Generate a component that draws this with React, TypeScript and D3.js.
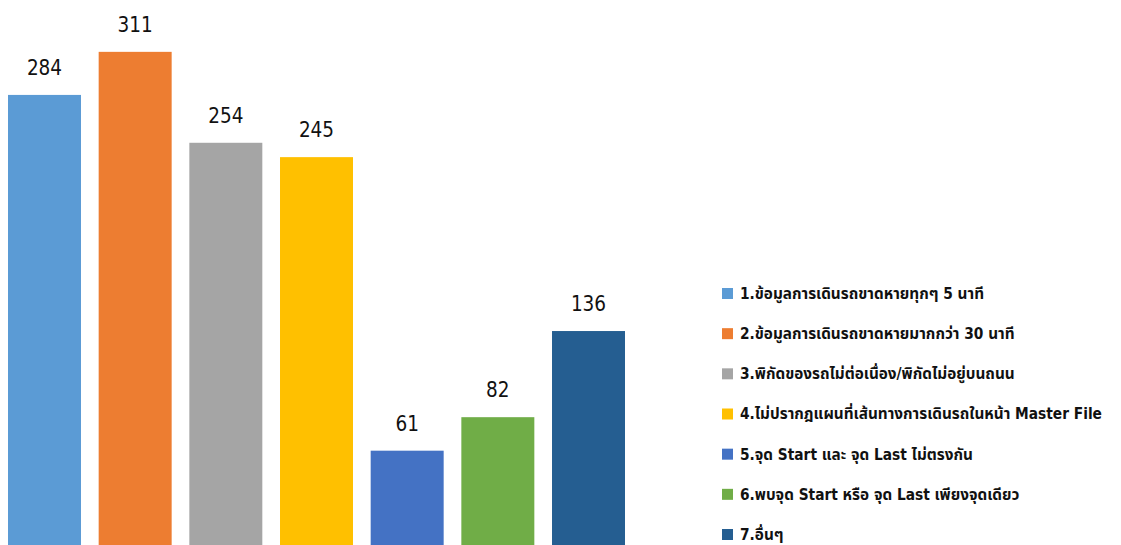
import React from 'react'
import * as d3 from 'd3'

const categories = [
  '1.ข้อมูลการเดินรถขาดหายทุกๆ 5 นาที',
  '2.ข้อมูลการเดินรถขาดหายมากกว่า 30 นาที',
  '3.พิกัดของรถไม่ต่อเนื่อง/พิกัดไม่อยู่บนถนน',
  '4.ไม่ปรากฎแผนที่เส้นทางการเดินรถในหน้า Master File',
  '5.จุด Start และ จุด Last ไม่ตรงกัน',
  '6.พบจุด Start หรือ จุด Last เพียงจุดเดียว',
  '7.อื่นๆ',
]
const values = [284, 311, 254, 245, 61, 82, 136]
const colors = ['#5B9BD5', '#ED7D31', '#A5A5A5', '#FFC000', '#4472C4', '#70AD47', '#255E91']

const width = 1121
const height = 545
const font = "'DejaVu Sans Condensed', 'DejaVu Sans', 'Noto Sans Thai', Tahoma, sans-serif"

export default function App() {
  const x = d3.scaleBand<string>()
    .domain(categories)
    .range([8, 625])
    .paddingInner(0.195)
    .paddingOuter(0)

  const y = d3.scaleLinear()
    .domain([0, 343.5])
    .range([548, 0])

  // legend rows
  const legendY = d3.scalePoint<string>()
    .domain(categories)
    .range([293.5, 534.5])

  return (
    <svg
      width={width}
      height={height}
      style={{ position: 'absolute', left: 0, top: 0, background: '#fff' }}
    >
      <g>
        {categories.map((c, i) => (
          <g key={c}>
            <rect
              x={x(c)}
              y={y(values[i])}
              width={x.bandwidth()}
              height={y(0) - y(values[i])}
              fill={colors[i]}
            />
            <text
              x={(x(c) ?? 0) + x.bandwidth() / 2}
              y={y(values[i]) - 20}
              textAnchor="middle"
              fontFamily={font}
              fontSize={20.5}
              fill="#111"
            >
              {values[i]}
            </text>
          </g>
        ))}
      </g>
      <g>
        {categories.map((c, i) => (
          <g key={c} transform={`translate(722,${legendY(c)})`}>
            <rect x={0} y={-5.5} width={11} height={11} fill={colors[i]} />
            <text
              x={18}
              y={0}
              dy="0.35em"
              fontFamily={font}
              fontSize={15.3}
              fontWeight="bold"
              fill="#111"
            >
              {c}
            </text>
          </g>
        ))}
      </g>
    </svg>
  )
}
